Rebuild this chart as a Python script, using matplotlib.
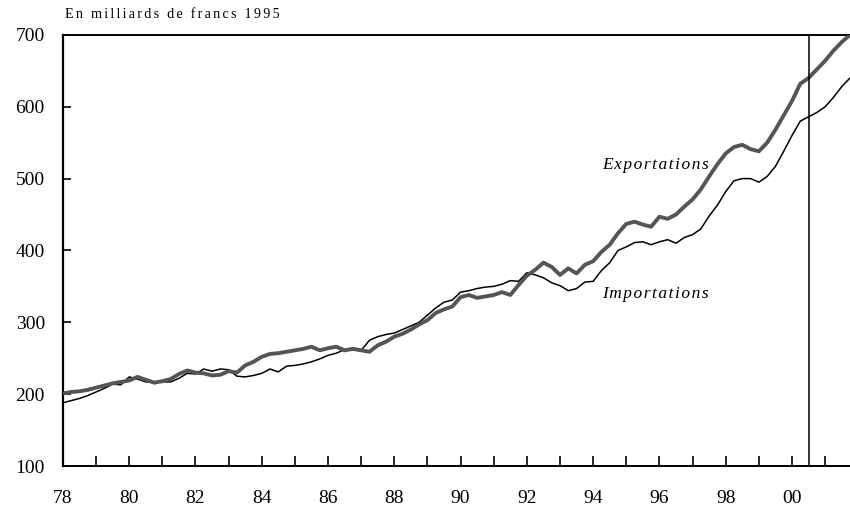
import numpy as np
import matplotlib.pyplot as plt

# quarterly series, 1978Q1 .. 2001Q4, en milliards de francs 1995
exportations = [
    201, 203, 204, 206,  # 78
    209, 212, 215, 217,  # 79
    219, 224, 220, 216,  # 80
    218, 221, 228, 233,  # 81
    230, 229, 226, 227,  # 82
    232, 230, 240, 245,  # 83
    252, 256, 257, 259,  # 84
    261, 263, 266, 261,  # 85
    264, 266, 261, 263,  # 86
    261, 259, 268, 273,  # 87
    280, 284, 290, 297,  # 88
    303, 313, 318, 322,  # 89
    335, 338, 334, 336,  # 90
    338, 342, 338, 352,  # 91
    365, 373, 383, 377,  # 92
    366, 375, 368, 380,  # 93
    385, 398, 408, 424,  # 94
    437, 440, 436, 433,  # 95
    447, 444, 450, 461,  # 96
    471, 485, 503, 520,  # 97
    535, 544, 547, 541,  # 98
    538, 550, 568, 588,  # 99
    608, 632, 640, 652,  # 00
    664, 678, 690, 700,  # 01
]
importations = [
    188, 191, 194, 198,
    203, 208, 214, 213,
    224, 221, 217, 217,
    217, 217, 222, 229,
    228, 235, 232, 235,
    234, 225, 224, 226,
    229, 235, 231, 239,
    240, 242, 245, 249,
    254, 257, 262, 264,
    261, 275, 280, 283,
    285, 290, 295, 300,
    310, 320, 328, 331,
    342, 344, 347, 349,
    350, 353, 358, 357,
    369, 366, 362, 355,
    351, 344, 347, 356,
    357, 372, 383, 400,
    405, 411, 412, 408,
    412, 415, 410, 418,
    422, 430, 448, 463,
    482, 497, 500, 500,
    495, 503, 517, 538,
    560, 580, 586, 592,
    600, 613, 628, 640,
]
start_year = 1978
year_ticks = list(range(1978, 2002))
year_labels = ["%02d" % (y % 100) if y % 2 == 0 else "" for y in year_ticks]
y_ticks = [100, 200, 300, 400, 500, 600, 700]
split_year = 2000.5

plt.rcParams["font.family"] = ["Liberation Serif", "DejaVu Serif"]


def spaced(s, gap):
    # the original text is letter-spaced; fake it with narrow spaces
    return gap.join(s)


t = start_year + np.arange(len(exportations)) / 4.0

fig = plt.figure(figsize=(8.5, 5.13), dpi=100)
ax = fig.add_axes([0.074, 0.0916, 0.926, 0.8404])

ax.plot(t, exportations, color="#555555", linewidth=2.8, zorder=3)
ax.plot(t, importations, color="black", linewidth=1.1, zorder=2)
ax.axvline(split_year, color="black", linewidth=1.1, zorder=4)

ax.set_xlim(1978, 2001.75)
ax.set_ylim(100, 700)
ax.set_xticks(year_ticks)
ax.set_xticklabels(year_labels, fontsize=14)
ax.set_yticks(y_ticks)
ax.set_yticklabels([str(v) for v in y_ticks], fontsize=14)
ax.tick_params(axis="x", direction="in", length=7, width=1.2, pad=17)
ax.tick_params(axis="y", direction="in", length=6, width=1.2, pad=13)

ax.spines["right"].set_visible(False)
ax.spines["left"].set_linewidth(1.6)
ax.spines["bottom"].set_linewidth(1.4)
ax.spines["top"].set_linewidth(1.4)

ax.text(1995.87, 519, spaced("Exportations", "\u200a"), fontsize=12.5,
        style="italic", ha="center", va="center")
ax.text(1995.87, 340, spaced("Importations", "\u200a"), fontsize=12.5,
        style="italic", ha="center", va="center")
fig.text(0.077, 0.972, spaced("En milliards de francs 1995", "\u200a\u200a"),
         fontsize=10.2, ha="left", va="center")

fig.savefig("out.png", dpi=100)
